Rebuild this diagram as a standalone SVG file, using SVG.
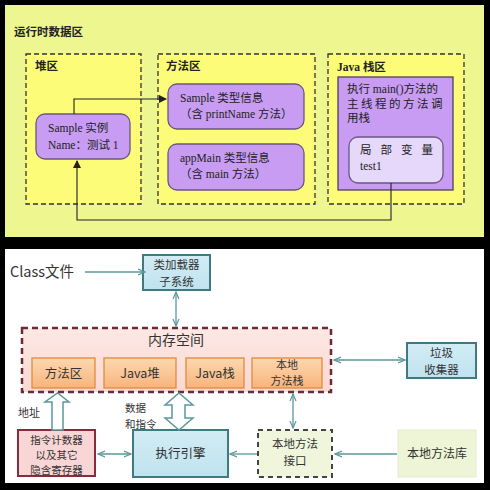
<svg xmlns="http://www.w3.org/2000/svg" width="490" height="490" viewBox="0 0 490 490">
<defs>
<style>
.serif{font-family:"Liberation Serif","Noto Sans CJK SC",serif;font-size:11.5px;fill:#222}
.bold{font-weight:bold}
.sans{font-family:"Noto Sans CJK SC","Liberation Sans",sans-serif;fill:#333}
.zone{fill:#fcfc78;stroke:#333;stroke-width:1.3;stroke-dasharray:5 3}
.purple{fill:#c79cf2;stroke:#6a5680;stroke-width:1.3}
.conn{fill:none;stroke:#222;stroke-width:1.1}
.teal{fill:none;stroke:#5b979b;stroke-width:1.3}
.blue{fill:url(#gBlue);stroke:#3f7b7e;stroke-width:2}
.orange{fill:url(#gOrange);stroke:#e08a40;stroke-width:1.3}
.hollow{fill:#fff;stroke:#5b979b;stroke-width:1.5}
</style>
<linearGradient id="gBlue" x1="0" y1="0" x2="0" y2="1"><stop offset="0" stop-color="#d3ecf4"/><stop offset="1" stop-color="#bfe3ef"/></linearGradient>
<linearGradient id="gOrange" x1="0" y1="0" x2="0" y2="1"><stop offset="0" stop-color="#fcd8b0"/><stop offset="1" stop-color="#f8b47c"/></linearGradient>
<linearGradient id="gPink" x1="0" y1="0" x2="0" y2="1"><stop offset="0" stop-color="#fde8e4"/><stop offset="1" stop-color="#fbd8d2"/></linearGradient>
<marker id="ah" markerWidth="8" markerHeight="8" refX="7" refY="4" orient="auto" markerUnits="userSpaceOnUse"><path d="M0,0 L8,4 L0,8 z" fill="#222"/></marker>
<marker id="th" markerWidth="8" markerHeight="8" refX="7" refY="4" orient="auto-start-reverse" markerUnits="userSpaceOnUse"><path d="M0,1 L7,4 L0,7" fill="none" stroke="#5b979b" stroke-width="1.2"/></marker>
</defs>

<rect x="0" y="0" width="490" height="490" fill="#000"/>
<rect x="5" y="5" width="479" height="232" fill="#eef68f"/>
<rect x="5" y="249" width="479" height="234" fill="#fff"/>

<!-- Top diagram -->
<text class="serif bold" x="14" y="36" font-size="12">运行时数据区</text>

<g id="heap">
<rect class="zone" x="26" y="54" width="115" height="150"/>
<text class="serif bold" x="35" y="70">堆区</text>
</g>
<g id="method-area">
<rect class="zone" x="158" y="54" width="157" height="150"/>
<text class="serif bold" x="166" y="70">方法区</text>
</g>
<g id="java-stack">
<rect class="zone" x="328" y="54" width="136" height="150"/>
<text class="serif bold" x="337" y="71">Java 栈区</text>
</g>

<g id="sample-instance">
<rect class="purple" x="36" y="114" width="94" height="45" rx="9"/>
<text class="serif" x="48" y="132">Sample 实例</text>
<text class="serif" x="48" y="149">Name：测试 1</text>
</g>
<g id="sample-type">
<rect class="purple" x="168" y="84" width="136" height="45" rx="9"/>
<text class="serif" x="180" y="102">Sample 类型信息</text>
<text class="serif" x="180" y="118">（含 printName 方法）</text>
</g>
<g id="appmain-type">
<rect class="purple" x="168" y="144" width="136" height="46" rx="9"/>
<text class="serif" x="180" y="162">appMain 类型信息</text>
<text class="serif" x="180" y="178">（含 main 方法）</text>
</g>
<g id="main-thread-stack">
<rect x="338" y="77" width="115" height="113" fill="#c79cf2" stroke="#4e4060" stroke-width="1.3"/>
<text class="serif" x="347" y="93">执行 main()方法的</text>
<text class="serif" x="347" y="108" letter-spacing="2.5">主线程的方法调</text>
<text class="serif" x="347" y="122">用栈</text>
</g>
<g id="local-var">
<rect x="349" y="137" width="94" height="46" rx="9" fill="#e6d8fa" stroke="#6a5680" stroke-width="1.3"/>
<text class="serif" x="360" y="154" letter-spacing="9">局部变量</text>
<text class="serif" x="360" y="170">test1</text>
</g>

<g id="connectors-top">
<path class="conn" d="M74,114 V99 H166" marker-end="url(#ah)"/>
<path class="conn" d="M391,183 V220 H77 V161" marker-end="url(#ah)"/>
</g>

<!-- Bottom diagram -->
<text class="sans" x="10" y="277" font-size="14.5">Class文件</text>

<g id="memory-space">
<rect x="22" y="328" width="309" height="64" fill="url(#gPink)" stroke="#6b2a3a" stroke-width="2.5" stroke-dasharray="6 4"/>
<text class="sans" x="176" y="345" font-size="14" text-anchor="middle">内存空间</text>
</g>
<g id="method-area-b">
<rect class="orange" x="32" y="358" width="63" height="30"/>
<text class="sans" x="63.5" y="378" font-size="12.5" text-anchor="middle">方法区</text>
</g>
<g id="java-heap">
<rect class="orange" x="104" y="358" width="72" height="30"/>
<text class="sans" x="140" y="378" font-size="12.5" text-anchor="middle">Java堆</text>
</g>
<g id="java-stack-b">
<rect class="orange" x="186" y="358" width="58" height="30"/>
<text class="sans" x="215" y="378" font-size="12.5" text-anchor="middle">Java栈</text>
</g>
<g id="native-stack">
<rect class="orange" x="252" y="358" width="70" height="30"/>
<text class="sans" x="287" y="369" font-size="11" text-anchor="middle">本地</text>
<text class="sans" x="287" y="385" font-size="11" text-anchor="middle">方法栈</text>
</g>

<g id="class-loader">
<rect class="blue" x="143" y="255" width="67" height="35"/>
<text class="sans" x="176.5" y="269" font-size="11.5" text-anchor="middle">类加载器</text>
<text class="sans" x="176.5" y="285.5" font-size="11.5" text-anchor="middle">子系统</text>
</g>
<g id="gc">
<rect class="blue" x="407" y="343" width="69" height="35"/>
<text class="sans" x="441.5" y="357" font-size="11.5" text-anchor="middle">垃圾</text>
<text class="sans" x="441.5" y="373.5" font-size="11.5" text-anchor="middle">收集器</text>
</g>
<g id="pc-register">
<rect x="18" y="430" width="77" height="46" fill="#f9d6d6" stroke="#8a2a3a" stroke-width="2"/>
<text class="sans" x="56.5" y="443.5" font-size="10.5" text-anchor="middle">指令计数器</text>
<text class="sans" x="56.5" y="458.5" font-size="10.5" text-anchor="middle">以及其它</text>
<text class="sans" x="56.5" y="473.5" font-size="10.5" text-anchor="middle">隐含寄存器</text>
</g>
<g id="exec-engine">
<rect class="blue" x="133" y="430" width="95" height="47"/>
<text class="sans" x="180.5" y="458" font-size="12.5" text-anchor="middle">执行引擎</text>
</g>
<g id="native-interface">
<rect x="258" y="430" width="74" height="47" fill="#eff6dc" stroke="#444" stroke-width="2" stroke-dasharray="5 4"/>
<text class="sans" x="295" y="448" font-size="11.5" text-anchor="middle">本地方法</text>
<text class="sans" x="295" y="464.5" font-size="11.5" text-anchor="middle">接口</text>
</g>
<g id="native-lib">
<rect x="398" y="430" width="78" height="47" fill="#edf5d6" stroke="#e3ecd0" stroke-width="1"/>
<text class="sans" x="437" y="458" font-size="12" text-anchor="middle">本地方法库</text>
</g>

<text class="sans" x="18" y="417" font-size="11">地址</text>
<text class="sans" x="125" y="412" font-size="10.5">数据</text>
<text class="sans" x="125" y="427.5" font-size="10.5">和指令</text>

<g id="connectors-bottom">
<path class="teal" d="M85,272 H145" marker-end="url(#th)"/>
<path class="teal" d="M176,292 V326" marker-start="url(#th)" marker-end="url(#th)"/>
<path class="teal" d="M334,360 H405" marker-start="url(#th)" marker-end="url(#th)"/>
<path class="teal" d="M98,454 H131" marker-start="url(#th)" marker-end="url(#th)"/>
<path class="teal" d="M257,454 H230" marker-end="url(#th)"/>
<path class="teal" d="M397,454 H335" marker-end="url(#th)"/>
<path class="teal" d="M293,394 V428" marker-start="url(#th)" marker-end="url(#th)"/>
<path class="hollow" d="M52,430 V402 H45 L57.5,393 L69,402 H63 V430 Z"/>
<path class="hollow" d="M179,393 L193,405 H185 V418 H193 L179,430 L165,418 H172 V405 H165 Z"/>
</g>
</svg>
